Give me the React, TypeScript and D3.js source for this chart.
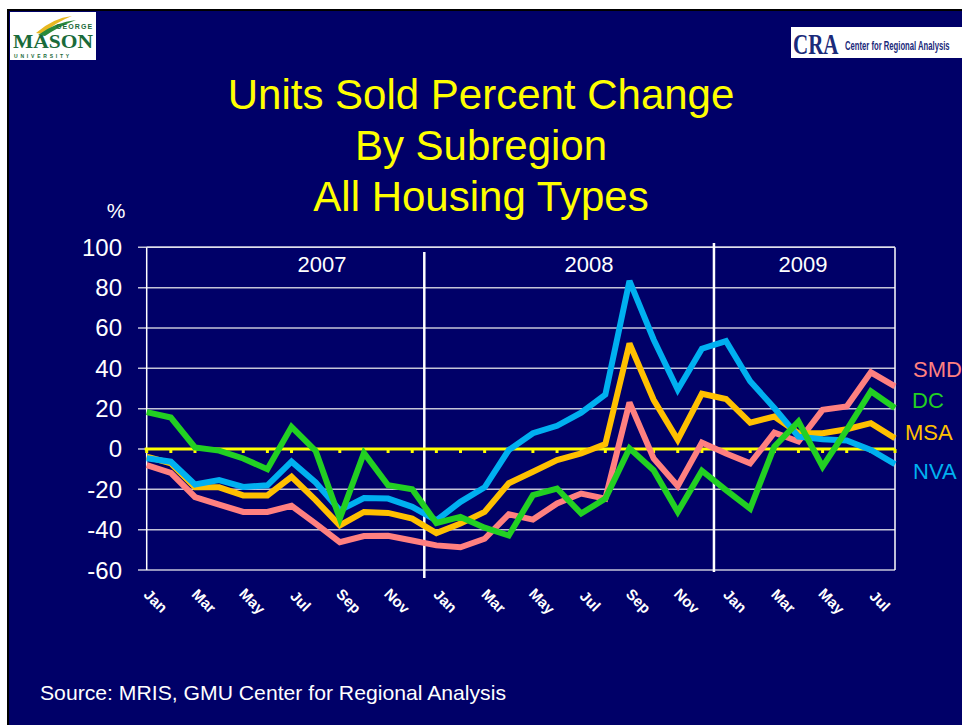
import React from "react";
import * as d3 from "d3";

const months = [
  "Jan","Feb","Mar","Apr","May","Jun","Jul","Aug","Sep","Oct","Nov","Dec",
  "Jan","Feb","Mar","Apr","May","Jun","Jul","Aug","Sep","Oct","Nov","Dec",
  "Jan","Feb","Mar","Apr","May","Jun","Jul","Aug",
];
const years = ["2007", "2008", "2009"];
const yTicks = [100, 80, 60, 40, 20, 0, -20, -40, -60];

const smd = [-8, -11.8, -23.8, -27.6, -31.2, -31.2, -28.2, -37, -46.2, -43.2, -43, -45.4, -47.8, -48.7, -44.5, -32.4, -35, -27, -22.1, -24.6, 23.1, -4.7, -18.4, 3.2, -2.2, -7.1, 8.1, 3.7, 19.4, 21.1, 38, 31];
const msa = [-3.8, -7.1, -19, -19, -23, -23, -13.8, -25.4, -37.9, -31.2, -31.7, -34.5, -41.7, -37, -31.2, -17, -11.3, -5.5, -2.2, 2.5, 52.3, 24.4, 4.5, 27.4, 24.8, 13.1, 16.1, 7.8, 7.8, 9.8, 12.8, 5.3];
const nva = [-4.6, -6.3, -17.6, -15.4, -18.8, -18, -6.3, -16.6, -30.4, -24.3, -24.6, -28.7, -35.4, -26.2, -19, -0.5, 7.8, 11.5, 18, 27, 83.4, 54.3, 29.4, 49.7, 53.5, 33.6, 20.3, 6.1, 4.8, 4.2, -0.5, -7.5];
const dc = [18.3, 15.6, 0.8, -0.8, -4.7, -10, 11, -1, -34.5, -2, -18, -20, -36.7, -33.7, -39, -42.9, -22.9, -19.6, -32, -24.6, 0.3, -10.5, -31.2, -10.8, -20.4, -29.6, 1.2, 13.6, -8.8, 9.5, 28.6, 20.3];

const seriesNames = ["SMD", "MSA", "NVA", "DC"];
const seriesColors = ["#FF8080", "#FFC000", "#00B0F0", "#22D022"];
const seriesData = [smd, msa, nva, dc];

const legendNames = ["SMD", "DC", "MSA", "NVA"];
const legendColors = ["#FF8080", "#22D022", "#FFC000", "#00B0F0"];

const FONT = "'Liberation Sans', Arial, sans-serif";

export default function App() {
  const W = 962, H = 725;
  const left = 146.7, right = 895, top = 247.3, bottom = 570;
  const x = d3.scaleLinear().domain([0, months.length - 1]).range([left, right]);
  const y = d3.scaleLinear().domain([-60, 100]).range([bottom, top]);
  const line = d3.line<number>().x((_, i) => x(i)).y((d) => y(d));
  const sep1 = x(11.5), sep2 = x(23.5);
  const yearCenters = [322, 589, 803];
  const legendY = [377, 408, 440, 479];
  const legendX = [913, 912, 905, 913];

  return (
    <svg width={W} height={H} style={{ position: "absolute", left: 0, top: 0, display: "block" }} fontFamily={FONT}>
      <rect x={0} y={0} width={W} height={H} fill="#ffffff" />
      <rect x={7} y={9} width={W - 7} height={H - 9} fill="#000000" />
      <rect x={9} y={11} width={W - 9} height={H - 11} fill="#000068" />

      {/* George Mason logo */}
      <rect x={10} y={12} width={86} height={48} fill="#ffffff" />
      <path d="M36,33 Q53,18 72,16 Q56,22 43,34 Z" fill="#e8b820" />
      <path d="M38,35 Q56,22 76,20 Q58,27 45,36 Z" fill="#2a8a3a" />
      <text x={56} y={29} fontSize={7} fontWeight="bold" fill="#1a6b3a" letterSpacing={1.1}>GEORGE</text>
      <text x={13} y={48} fontSize={18} fontWeight="bold" fill="#1a6b3a" fontFamily="'Liberation Serif', 'DejaVu Serif', serif" textLength={80} lengthAdjust="spacingAndGlyphs">MASON</text>
      <text x={14} y={58} fontSize={5} fontWeight="bold" fill="#1a6b3a" letterSpacing={2.8}>UNIVERSITY</text>

      {/* CRA logo */}
      <rect x={791} y={27} width={171} height={31} fill="#ffffff" />
      <g transform="translate(793,54) scale(0.7,1)">
        <text x={0} y={0} fontSize={30} fontWeight="bold" fill="#1a2a7a" fontFamily="'Liberation Serif', serif">CRA</text>
      </g>
      <g transform="translate(845,50) scale(0.64,1)">
        <text x={0} y={0} fontSize={12} fontWeight="bold" fill="#1a2a7a">Center for Regional Analysis</text>
      </g>

      {/* Title */}
      <g fill="#FFFF00" fontSize={42} textAnchor="middle">
        <text x={481} y={109}>Units Sold Percent Change</text>
        <text x={481} y={160}>By Subregion</text>
        <text x={481} y={211}>All Housing Types</text>
      </g>

      <text x={116} y={218} fill="#ffffff" fontSize={21} textAnchor="middle">%</text>

      {/* gridlines */}
      {yTicks.map((t) => (
        <line key={"g" + t} x1={138} x2={right} y1={y(t)} y2={y(t)} stroke="#c4c4d8" strokeWidth={1.5} />
      ))}
      {yTicks.map((t) => (
        <text key={"t" + t} x={122} y={y(t) + 8.5} fill="#ffffff" fontSize={24} textAnchor="end">{t}</text>
      ))}
      {/* plot borders */}
      <line x1={left} x2={left} y1={top} y2={bottom} stroke="#ffffff" strokeWidth={1.5} />
      <line x1={right} x2={right} y1={top} y2={bottom} stroke="#ffffff" strokeWidth={1.5} />
      <line x1={left} x2={right} y1={top} y2={top} stroke="#e0e0ec" strokeWidth={1.5} />

      {/* year separators */}
      <line x1={sep1} x2={sep1} y1={252} y2={578} stroke="#ffffff" strokeWidth={2.5} />
      <line x1={sep2} x2={sep2} y1={243} y2={572} stroke="#ffffff" strokeWidth={2.5} />
      {years.map((yr, i) => (
        <text key={yr} x={yearCenters[i]} y={272} fill="#ffffff" fontSize={22} textAnchor="middle">{yr}</text>
      ))}

      {/* zero axis */}
      <line x1={left - 2} x2={right} y1={y(0)} y2={y(0)} stroke="#FFFF00" strokeWidth={3} />
      {months.map((m, i) => (
        <line key={"zt" + i} x1={x(i)} x2={x(i)} y1={y(0)} y2={y(0) + 4} stroke="#FFFF00" strokeWidth={3} />
      ))}

      {/* series */}
      {seriesData.map((d, k) => (
        <path key={seriesNames[k]} d={line(d) || ""} fill="none" stroke={seriesColors[k]} strokeWidth={6} strokeLinejoin="miter" strokeMiterlimit={3} />
      ))}

      {/* x labels */}
      {months.map((m, i) =>
        i % 2 === 0 ? (
          <text key={"xl" + i} transform={`translate(${x(i) + 9},${601}) rotate(45)`} fill="#ffffff" fontSize={15} fontWeight="bold" textAnchor="middle" dy="0.35em">{m}</text>
        ) : null
      )}

      {/* legend labels */}
      {legendNames.map((n, i) => (
        <text key={n} x={legendX[i]} y={legendY[i]} fill={legendColors[i]} fontSize={22}>{n}</text>
      ))}

      <text x={40} y={700} fill="#ffffff" fontSize={21} textLength={466} lengthAdjust="spacingAndGlyphs">Source: MRIS, GMU Center for Regional Analysis</text>
    </svg>
  );
}
